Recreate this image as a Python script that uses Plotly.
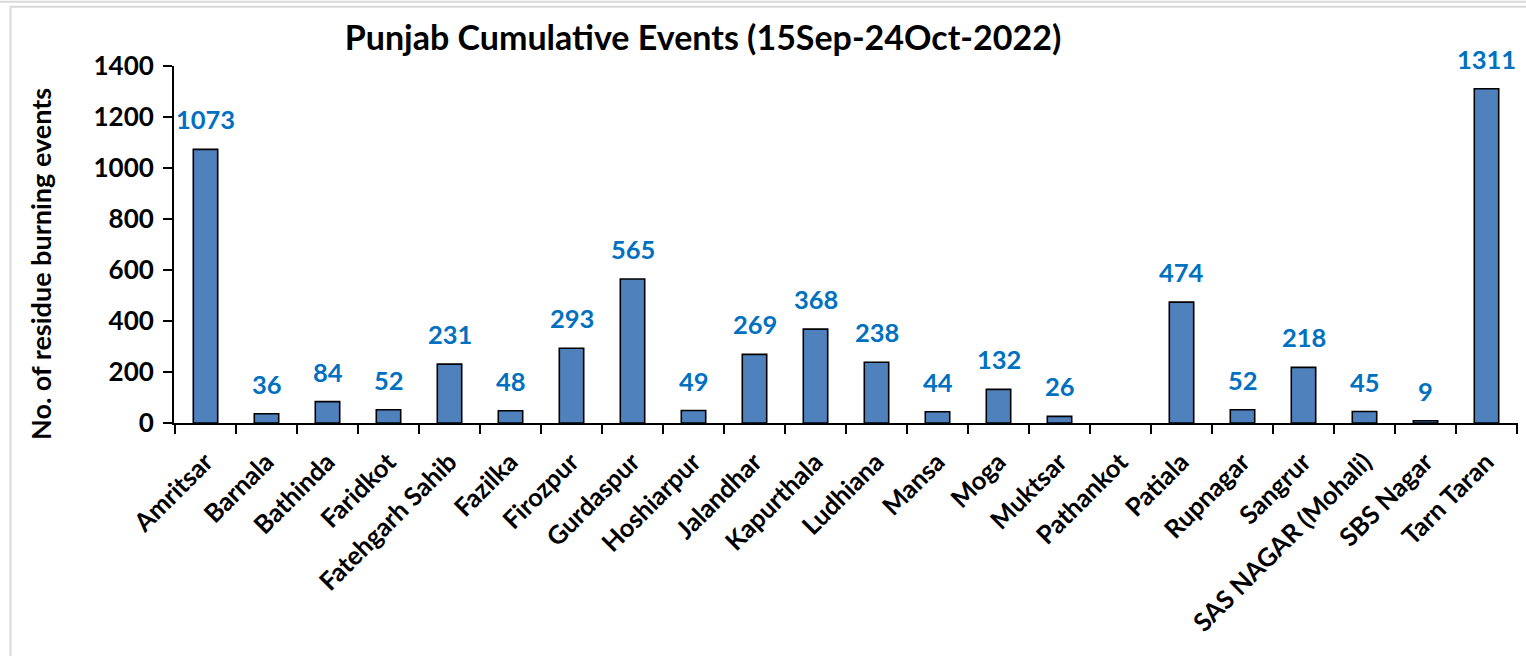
import plotly.graph_objects as go

districts = ["Amritsar", "Barnala", "Bathinda", "Faridkot", "Fatehgarh Sahib", "Fazilka",
             "Firozpur", "Gurdaspur", "Hoshiarpur", "Jalandhar", "Kapurthala", "Ludhiana",
             "Mansa", "Moga", "Muktsar", "Pathankot", "Patiala", "Rupnagar", "Sangrur",
             "SAS NAGAR (Mohali)", "SBS Nagar", "Tarn Taran"]
events = [1073, 36, 84, 52, 231, 48, 293, 565, 49, 269, 368, 238, 44, 132, 26, None,
          474, 52, 218, 45, 9, 1311]
y_ticks = [0, 200, 400, 600, 800, 1000, 1200, 1400]

W, H = 1526, 656
L, R, T, B = 174, 8, 66, 233
pw, ph = W - L - R, H - T - B

def px(x):
    return (x - L) / pw

def py(y):
    return (H - B - y) / ph

FONT = "Lato"

fig = go.Figure()
fig.add_trace(go.Bar(
    x=districts, y=events,
    marker=dict(color="#4F81BD", line=dict(color="#000000", width=1.6)),
    hoverinfo="x+y",
))

for d, v in zip(districts, events):
    if v is None:
        continue
    fig.add_annotation(x=d, y=v, text=str(v), showarrow=False, yanchor="bottom",
                       yshift=13, font=dict(family=FONT, size=25.5, color="#0070C0", weight="bold"))

fig.add_annotation(text="No. of residue burning events", xref="paper", yref="paper",
                   x=px(40), y=py(264), xanchor="center", yanchor="middle", textangle=-90,
                   showarrow=False, font=dict(family=FONT, size=27, color="black", weight="bold"))

fig.update_layout(
    width=W, height=H,
    margin=dict(l=L, r=R, t=T, b=B, autoexpand=False),
    paper_bgcolor="white", plot_bgcolor="white",
    bargap=0.6, showlegend=False,
    title=dict(text="Punjab Cumulative Events (15Sep-24Oct-2022)", xref="container",
               x=703 / W, xanchor="center", yref="container",
               y=1 - 38 / H, yanchor="middle",
               font=dict(family=FONT, size=34, color="black", weight="bold")),
    xaxis=dict(
        tickangle=-45, tickson="boundaries", ticks="outside", ticklen=9, tickwidth=2,
        tickcolor="#000000", showline=True, linecolor="#000000", linewidth=2,
        tickfont=dict(family=FONT, size=25.5, color="black", weight="bold"),
        ticklabelstandoff=12,
        showgrid=False, fixedrange=True,
    ),
    yaxis=dict(
        range=[0, 1400], tickvals=y_ticks, ticks="outside", ticklen=9, tickwidth=2,
        tickcolor="#000000", showline=True, linecolor="#000000", linewidth=2,
        tickfont=dict(family=FONT, size=26, color="black", weight="bold"),
        ticklabelstandoff=4,
        showgrid=False, zeroline=False, fixedrange=True,
    ),
    shapes=[
        dict(type="line", xref="paper", yref="paper", x0=px(0), x1=px(W), y0=py(1.7), y1=py(1.7),
             line=dict(color="#D9D9D9", width=2)),
        dict(type="line", xref="paper", yref="paper", x0=px(10), x1=px(W), y0=py(6.7), y1=py(6.7),
             line=dict(color="#D9D9D9", width=2)),
        dict(type="line", xref="paper", yref="paper", x0=px(10.5), x1=px(10.5), y0=py(6.7), y1=py(H),
             line=dict(color="#D9D9D9", width=2)),
    ],
)

fig.write_html("out.html", config={"displayModeBar": False},
               post_script="document.body.style.margin='0';")
